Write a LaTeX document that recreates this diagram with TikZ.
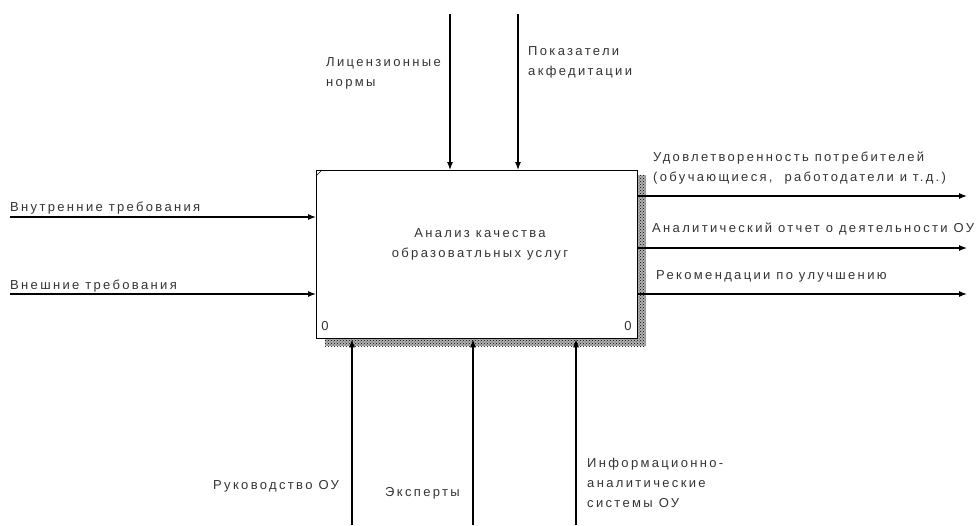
\documentclass[tikz,border=0pt]{standalone}
\usepackage{fontspec}
\newfontfamily\idefont[LetterSpace=18]{Liberation Sans}
\usetikzlibrary{arrows.meta, patterns}
\tikzstyle{func}  = [rectangle, draw=black, fill=white, line width=1.3pt,
                     minimum width=321pt, minimum height=168pt, inner sep=0pt]
\tikzstyle{lbl}   = [anchor=north west, inner sep=0pt, align=left, text=black!80,
                     font=\idefont\fontsize{13}{20}\selectfont]
\tikzstyle{arrow} = [line width=1.1pt, -{Latex[length=8pt,width=6pt]}]
\tikzstyle{shade} = [fill=black!30, postaction={pattern=crosshatch dots, pattern color=black}]

\begin{document}
\begin{tikzpicture}[x=1pt, y=-1pt]
  \useasboundingbox (0,0) rectangle (980,525);

  % shadow and function box
  \path[shade] (637,175) rectangle (646,346);
  \path[shade] (325,338) rectangle (646,346);
  \node (box) [func, anchor=north west] at (316,170) {};
  \draw[line width=0.6pt] ([yshift=-6pt]box.north west) -- ([xshift=6pt]box.north west);
  \node (title) [lbl, anchor=center, align=center] at (480,244) {Анализ качества\\образоватльных услуг};
  \node (numl)  [lbl, anchor=center] at (325,326) {0};
  \node (numr)  [lbl, anchor=center] at (628,326) {0};

  % inputs
  \coordinate (inner) at (10,217);
  \coordinate (outer) at (10,294);
  \draw[arrow] (inner) -- (inner -| box.west);
  \draw[arrow] (outer) -- (outer -| box.west);
  \node (innerl) [lbl] at (10,202) {Внутренние требования};
  \node (outerl) [lbl] at (10,280) {Внешние требования};

  % controls
  \coordinate (licence) at (450,14);
  \coordinate (accred)  at (518,14);
  \draw[arrow] (licence) -- (licence |- box.north);
  \draw[arrow] (accred)  -- (accred |- box.north);
  \node (licencel) [lbl] at (326,57) {Лицензионные\\нормы};
  \node (accredl)  [lbl] at (528,46) {Показатели\\акфедитации};

  % outputs
  \coordinate (satisf) at (967,196);
  \coordinate (report) at (967,248);
  \coordinate (advice) at (967,294);
  \draw[arrow] (box.east |- satisf) -- (satisf);
  \draw[arrow] (box.east |- report) -- (report);
  \draw[arrow] (box.east |- advice) -- (advice);
  \node (satisfl) [lbl] at (653,152) {Удовлетворенность потребителей\\(обучающиеся,\ \ работодатели и т.д.)};
  \node (reportl) [lbl] at (652,223) {Аналитический отчет о деятельности ОУ};
  \node (advicel) [lbl] at (656,270) {Рекомендации по улучшению};

  % mechanisms
  \coordinate (head)    at (352,525);
  \coordinate (experts) at (473,525);
  \coordinate (infosys) at (576,525);
  \draw[arrow] (head)    -- (head |- box.south);
  \draw[arrow] (experts) -- (experts |- box.south);
  \draw[arrow] (infosys) -- (infosys |- box.south);
  \node (headl)    [lbl] at (213,480) {Руководство ОУ};
  \node (expertsl) [lbl] at (385,487) {Эксперты};
  \node (infosysl) [lbl] at (587,458) {Информационно-\\аналитические\\системы ОУ};
\end{tikzpicture}
\end{document}
